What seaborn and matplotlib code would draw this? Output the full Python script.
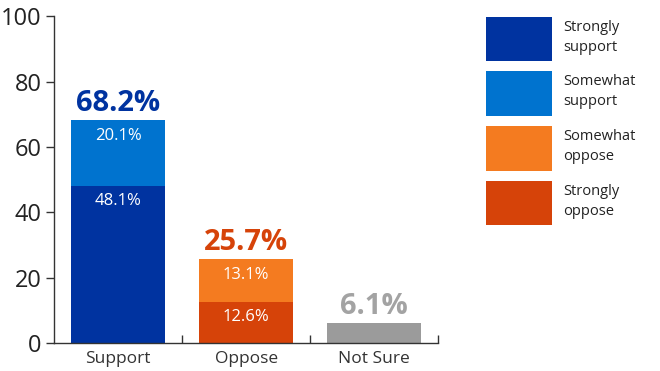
import matplotlib
matplotlib.use("Agg")
import matplotlib.pyplot as plt
from matplotlib.patches import Patch
import seaborn as sns

# data
categories = ["Support", "Oppose", "Not Sure"]
strongly = [48.1, 12.6, 0.0]
somewhat = [20.1, 13.1, 0.0]
not_sure = [0.0, 0.0, 6.1]
totals = [68.2, 25.7, 6.1]
legend_labels = ["Strongly\nsupport", "Somewhat\nsupport", "Somewhat\noppose", "Strongly\noppose"]

# colours
c_strong_sup = "#0033A0"
c_some_sup = "#0073CF"
c_some_opp = "#F47B20"
c_strong_opp = "#D64309"
c_grey = "#9B9B9B"
total_colors = [c_strong_sup, c_strong_opp, "#A3A3A3"]

sns.set_style("white")
plt.rcParams["font.family"] = ["Open Sans", "DejaVu Sans"]

fig = plt.figure(figsize=(6.6, 3.71), dpi=100)
ax = fig.add_axes([0.082, 0.0755, 0.582, 0.881])

# full height first, then the lower segment on top of it
sns.barplot(x=categories, y=totals, hue=categories,
            palette=[c_some_sup, c_some_opp, c_grey],
            width=0.73, saturation=1, legend=False, linewidth=0, ax=ax)
sns.barplot(x=categories, y=strongly, hue=categories,
            palette=[c_strong_sup, c_strong_opp, c_grey],
            width=0.73, saturation=1, legend=False, linewidth=0, ax=ax)

# labels
for i, (tot, col) in enumerate(zip(totals, total_colors)):
    ax.text(i, tot + 0.6, f"{tot:.1f}%", ha="center", va="bottom",
            fontsize=21, fontweight="bold", color=col)
for i in range(len(categories)):
    if somewhat[i] > 0:
        ax.text(i, totals[i] - 4.8, f"{somewhat[i]:.1f}%", ha="center",
                va="center", fontsize=12, color="white")
    if strongly[i] > 0:
        ax.text(i, strongly[i] - 4.8, f"{strongly[i]:.1f}%", ha="center",
                va="center", fontsize=12, color="white")

ax.set_xlim(-0.5, 2.5)
ax.set_ylim(0, 100)
ax.set_yticks([0, 20, 40, 60, 80, 100])
ax.tick_params(axis="y", labelsize=17, length=6, width=1, color="#333333",
               labelcolor="#222222", pad=3, left=True)
ax.tick_params(axis="x", labelsize=12.5, length=0, labelcolor="#333333", pad=6)
ax.set_xticks([0.5, 1.5, 2.5], minor=True)
ax.tick_params(axis="x", which="minor", direction="in", length=6, width=1,
               color="#333333", bottom=True)
for s in ["top", "right"]:
    ax.spines[s].set_visible(False)
for s in ["left", "bottom"]:
    ax.spines[s].set_color("#333333")
    ax.spines[s].set_linewidth(1)
ax.set_xlabel("")
ax.set_ylabel("")

handles = [Patch(facecolor=c, linewidth=0) for c in [c_strong_sup, c_some_sup, c_some_opp, c_strong_opp]]
leg = fig.legend(handles, legend_labels, loc="upper left", bbox_to_anchor=(0.726, 0.975),
                 frameon=False, fontsize=10.5, handlelength=4.5, handleheight=4.3,
                 labelspacing=0.72, handletextpad=0.75, borderpad=0, labelcolor="#222222")
for t in leg.get_texts():
    t.set_linespacing(1.45)

fig.savefig("out.png", dpi=100)
